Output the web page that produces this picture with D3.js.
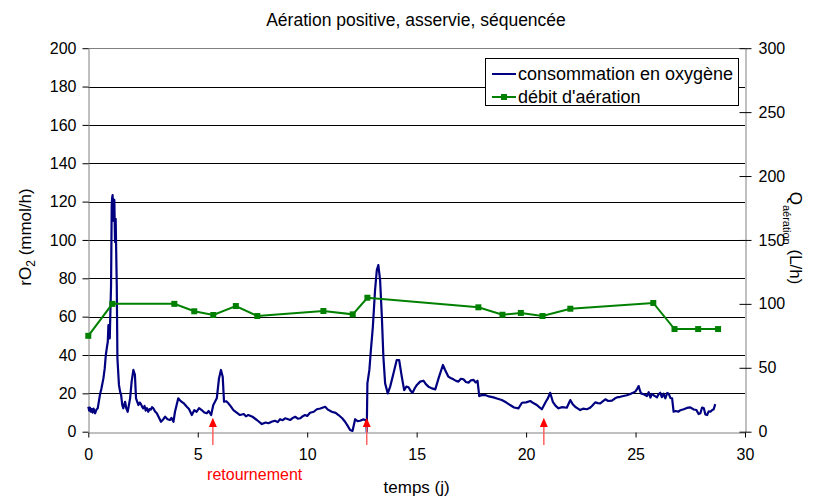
<!DOCTYPE html>
<html><head><meta charset="utf-8">
<script src="https://cdn.jsdelivr.net/npm/d3@7/dist/d3.min.js"></script>
<style>
body{margin:0;background:#fff;}
text{font-family:"Liberation Sans",Arial,sans-serif;fill:#000;}
</style></head>
<body><svg id="c" width="819" height="499"></svg>
<script>
const title = "Aération positive, asservie, séquencée";
const xTicks = [0,5,10,15,20,25,30];
const yLeftTicks = [0,20,40,60,80,100,120,140,160,180,200];
const yRightTicks = [0,50,100,150,200,250,300];
// consommation en oxygène (rO2, mmol/h)
const o2Days = [0,0.04,0.08,0.12,0.16,0.2,0.24,0.31,0.37,0.43,0.53,0.6,0.69,0.75,0.8,0.85,0.89,0.92,0.98,1.04,1.07,1.09,1.11,1.13,1.15,1.17,1.19,1.22,1.25,1.3,1.33,1.4,1.45,1.5,1.55,1.6,1.68,1.74,1.8,1.91,1.98,2.06,2.13,2.18,2.29,2.35,2.4,2.46,2.51,2.57,2.62,2.68,2.74,2.8,2.85,2.91,2.97,3.05,3.13,3.22,3.32,3.42,3.51,3.62,3.73,3.8,3.89,3.96,4.11,4.2,4.27,4.38,4.5,4.6,4.73,4.84,4.95,5.06,5.18,5.3,5.41,5.5,5.61,5.71,5.87,5.97,6.06,6.14,6.2,6.3,6.4,6.5,6.63,6.78,6.93,7.1,7.2,7.31,7.5,7.7,7.93,8.1,8.23,8.4,8.53,8.65,8.76,8.88,8.99,9.1,9.22,9.35,9.45,9.57,9.68,9.8,9.9,10.0,10.13,10.3,10.44,10.6,10.82,10.95,11.12,11.3,11.43,11.6,11.73,11.85,11.96,12.07,12.19,12.3,12.42,12.55,12.65,12.7,12.72,12.75,12.84,12.91,13.0,13.1,13.18,13.25,13.33,13.41,13.48,13.56,13.68,13.79,13.94,14.09,14.2,14.32,14.43,14.53,14.63,14.72,14.81,14.92,15.01,15.16,15.31,15.42,15.54,15.7,15.85,16.0,16.2,16.3,16.45,16.55,16.68,16.8,16.91,17.02,17.14,17.25,17.37,17.48,17.6,17.7,17.78,17.86,18.0,18.13,18.3,18.51,18.7,18.89,19.1,19.27,19.45,19.65,19.81,20.0,20.19,20.35,20.49,20.6,20.72,20.9,21.0,21.1,21.22,21.35,21.48,21.65,21.86,22.02,22.12,22.24,22.35,22.47,22.6,22.78,22.9,23.01,23.16,23.28,23.39,23.5,23.62,23.75,23.92,24.05,24.15,24.3,24.45,24.6,24.76,24.88,24.99,25.08,25.14,25.2,25.25,25.4,25.52,25.6,25.68,25.75,25.85,25.98,26.05,26.13,26.2,26.28,26.36,26.45,26.52,26.59,26.67,26.74,26.85,26.95,27.05,27.2,27.35,27.5,27.66,27.78,27.88,27.96,28.04,28.12,28.19,28.27,28.34,28.42,28.49,28.57,28.64,28.72];
const o2Values = [13.0,11.0,12.5,10.4,11.8,10.0,12.0,9.6,11.5,12.2,19.1,22.5,27.8,33,40,44,46.9,55.6,48.7,76.5,118,122,123.4,116,110,121,120.8,99,111,76.5,38.3,24.4,21,19.1,14,12.2,15.6,12,10.4,17.4,26.1,32.2,29.6,17.4,13.9,15.2,14.5,13,12.2,13.4,11.0,12.3,10.4,11.8,11.5,12.8,12.2,10.5,9.6,7.5,5.2,6.4,7.8,6.5,6.1,7.2,5.2,10.4,17.4,16.2,15.6,14.6,13,11.8,8.7,11.2,10.4,12.3,11.3,10.0,9.6,10.8,8.7,13.9,17.4,27.8,32.2,28.7,15.6,15.9,14.8,13.3,11.3,10.0,8.7,9.2,8.0,8.7,7.8,6.1,4.0,4.8,4.4,5.3,5.7,5.0,6.5,6.0,7.0,6.6,6.1,7.2,7.8,6.8,7.0,8.1,8.7,8.2,9.9,10.4,11.7,12.1,13.0,11.5,10.4,9.8,8.7,7.0,5.2,3.0,0.9,0.4,6.5,5.5,5.7,6.4,6.1,5.5,0,25.2,32.2,42.6,54.8,73.9,84.3,86.9,79.1,60,39.1,25.2,20.0,23.5,30.4,37.4,37.4,28.7,21.7,23.5,23.2,21.4,20.3,22.8,24.4,26.1,26.6,24.8,23.5,22.6,22.1,27.8,34.8,32.2,28.7,28.0,27.3,26.5,26.1,27.6,27.3,25.9,25.6,26.8,27,25.7,26.6,18.6,19.2,19.1,18.4,17.9,17.2,16.5,15.2,13.9,12.6,12.2,15.1,15.3,16,14.8,13.9,12.8,11.7,15.6,17.5,20.3,15.6,13.5,12.2,12.8,12.5,16.5,14.5,13,12.2,11.3,12.0,11.7,12.3,13.4,15.3,14.9,14.8,15.8,16.9,16.0,16.2,17.3,17.9,18.2,18.6,19.0,19.7,20.3,20.9,22.5,23.8,21.5,20,19.4,18.6,20.6,17.8,19.7,18.8,17.9,19.5,20.3,18.0,19.8,17.4,20.2,19.7,17.6,17.4,10.4,10.8,10.4,11.2,11.7,12.4,12.7,11.6,11.3,9.2,9.6,12.6,12.2,9.0,8.7,10.6,10.4,11.2,11.7,14.4];
// débit d'aération (L/h)
const airDays = [0,1.1,3.93,4.84,5.71,6.74,7.72,10.74,12.08,12.75,17.82,18.92,19.76,20.75,22.02,25.81,26.78,27.86,28.77];
const airValues = [75,100,100,94.2,91.3,98.3,90.5,94.4,91.8,104.8,97.3,91.5,92.9,90.5,96.2,100.7,80.3,80.3,80.3];
const arrowDays = [5.69,12.72,20.81];
const legendLabels = ["consommation en oxygène","débit d'aération"];

const svg = d3.select("#c");
const L=88.3, R=745, T=48.2, B=431.7;
const x = d3.scaleLinear().domain([0,30]).range([L,R]);
const yL = d3.scaleLinear().domain([0,200]).range([B,T]);
const yR = d3.scaleLinear().domain([0,300]).range([B,T]);
svg.append("rect").attr("width",819).attr("height",499).attr("fill","#fff");

// gridlines
svg.append("g").selectAll("line").data(yLeftTicks.filter(d=>d>0&&d<200)).join("line")
  .attr("x1",L).attr("x2",R).attr("y1",d=>Math.round(yL(d))+0.5).attr("y2",d=>Math.round(yL(d))+0.5)
  .attr("stroke","#000").attr("stroke-width",1);
svg.append("line").attr("x1",L).attr("x2",R).attr("y1",Math.round(T)+0.5).attr("y2",Math.round(T)+0.5).attr("stroke","#808080");

// axes
const fs = "16px";
const gx = svg.append("g").attr("transform",`translate(0,${Math.round(B)+0.5})`)
  .call(d3.axisBottom(x).tickValues(xTicks).tickSize(5).tickPadding(11).tickSizeOuter(0));
const gl = svg.append("g").attr("transform",`translate(${Math.round(L)+0.5},0)`)
  .call(d3.axisLeft(yL).tickValues(yLeftTicks).tickSize(6).tickPadding(6).tickSizeOuter(0));
const gr = svg.append("g").attr("transform",`translate(${Math.round(R)+0.5},0)`)
  .call(d3.axisRight(yR).tickValues(yRightTicks).tickSize(6).tickPadding(7).tickSizeOuter(0));
gr.selectAll(".tick line").attr("x1",-6);
[gx,gl,gr].forEach(g=>{
  g.selectAll("path").attr("stroke","#808080");
  g.selectAll(".tick line").attr("stroke","#000");
  g.selectAll("text").style("font-size",fs).attr("fill","#000");
});

// blue line
const o2 = o2Days.map((d,i)=>[d,o2Values[i]]);
svg.append("path").datum(o2).attr("fill","none").attr("stroke","#000080").attr("stroke-width",2.2)
  .attr("stroke-linejoin","round")
  .attr("d",d3.line().x(d=>x(d[0])).y(d=>yL(d[1])));

// green line
const air = airDays.map((d,i)=>[d,airValues[i]]);
svg.append("path").datum(air).attr("fill","none").attr("stroke","#008000").attr("stroke-width",2)
  .attr("d",d3.line().x(d=>x(d[0])).y(d=>yR(d[1])));
svg.append("g").selectAll("rect").data(air).join("rect")
  .attr("x",d=>x(d[0])-3).attr("y",d=>yR(d[1])-3).attr("width",6).attr("height",6).attr("fill","#008000");

// arrows
const ag = svg.append("g");
arrowDays.forEach(d=>{
  ag.append("line").attr("x1",x(d)).attr("x2",x(d)).attr("y1",yL(-6.9)).attr("y2",yL(4)).attr("stroke","#ff6060").attr("stroke-width",1.5);
  ag.append("path").attr("d",`M${x(d)},${yL(7.3)} L${x(d)-4},${yL(2.5)} L${x(d)+4},${yL(2.5)} Z`).attr("fill","#ff0000");
});
svg.append("text").attr("x",x(7.6)).attr("y",480).attr("text-anchor","middle").style("font-size","16px").style("fill","#ff0000").text("retournement");

// titles
svg.append("text").attr("x",416).attr("y",26).attr("text-anchor","middle").style("font-size","17.5px").text(title);
svg.append("text").attr("x",(L+R)/2).attr("y",493).attr("text-anchor","middle").style("font-size","17px").text("temps (j)");
const lt = svg.append("text").attr("transform",`translate(31,237) rotate(-90)`).attr("text-anchor","middle").style("font-size","17px");
lt.append("tspan").text("rO");
lt.append("tspan").attr("dy",4).style("font-size","12px").text("2");
lt.append("tspan").attr("dy",-4).text(" (mmol/h)");
const rt = svg.append("text").attr("transform",`translate(790,238) rotate(90)`).attr("text-anchor","middle").style("font-size","17px");
rt.append("tspan").text("Q");
rt.append("tspan").attr("dy",7).style("font-size","11px").text("aération");
rt.append("tspan").attr("dy",-7).text("  (L/h)");

// legend
const lg = svg.append("g");
lg.append("rect").attr("x",485.5).attr("y",58.5).attr("width",253).attr("height",47).attr("fill","#fff").attr("stroke","#000");
const cols = ["#000080","#008000"];
legendLabels.forEach((t,i)=>{
  const yy = 74 + i*23;
  lg.append("line").attr("x1",492).attr("x2",516).attr("y1",yy).attr("y2",yy).attr("stroke",cols[i]).attr("stroke-width",2);
  if(i===1) lg.append("rect").attr("x",501).attr("y",yy-3).attr("width",6).attr("height",6).attr("fill",cols[i]);
  lg.append("text").attr("x",518).attr("y",yy+6).style("font-size","18px").text(t);
});
</script></body></html>
